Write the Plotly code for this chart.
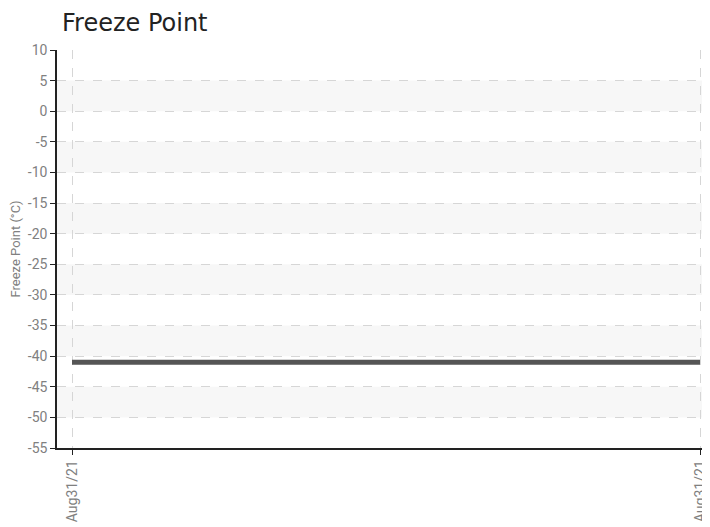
import plotly.graph_objects as go

# Data
dates = ["Aug31/21", "Aug31/21"]
x_pos = [0, 1]
freeze_point = [-41, -41]
y_ticks = [10, 5, 0, -5, -10, -15, -20, -25, -30, -35, -40, -45, -50, -55]
y_tick_labels = ["10", "5", "0", "-5", "-10", "-15", "-20", "-25", "-30", "-35", "-40", "-45", "-50", "-55"]

fig = go.Figure()

# alternating bands
shapes = []
for lo in range(-50, 10, 10):
    shapes.append(dict(type="rect", xref="paper", yref="y", x0=0, x1=1,
                       y0=lo, y1=lo + 5, fillcolor="#f7f7f7", line_width=0, layer="below"))

fig.add_trace(go.Scatter(x=x_pos, y=freeze_point, mode="lines",
                         line=dict(color="#555555", width=5), hoverinfo="y"))

tick_font = dict(family="Roboto, sans-serif", size=14, color="#808080")

fig.update_layout(
    width=710, height=527,
    margin=dict(l=49, r=8, t=42, b=87, autoexpand=False),
    paper_bgcolor="white", plot_bgcolor="white",
    showlegend=False,
    shapes=shapes,
    title=dict(text="Freeze Point", x=0, xref="paper", xanchor="left", y=0.973, yanchor="middle",
               font=dict(family="DejaVu Sans, sans-serif", size=24, color="#222222"),
               pad=dict(l=5)),
    xaxis=dict(range=[-0.0239, 1.0159], tickvals=x_pos, ticktext=dates, tickangle=-90,
               showgrid=True, gridcolor="#d6d6d6", griddash="dash", gridwidth=1,
               showline=True, linecolor="#222222", linewidth=1.5, automargin=False,
               ticks="outside", ticklen=5, tickcolor="#222222",
               tickfont=tick_font, zeroline=False),
    yaxis=dict(range=[-55, 10], tickvals=y_ticks, ticktext=y_tick_labels,
               showgrid=True, gridcolor="#d6d6d6",
               griddash="dash", gridwidth=1, showline=True, linecolor="#222222", linewidth=1.5,
               ticks="outside", ticklen=5, tickcolor="#222222", tickfont=tick_font,
               zeroline=False, automargin=False,
               title=dict(text="Freeze Point (°C)", standoff=8,
                          font=dict(family="Roboto, sans-serif", size=13, color="#808080"))),
)

fig.write_html("out.html")
